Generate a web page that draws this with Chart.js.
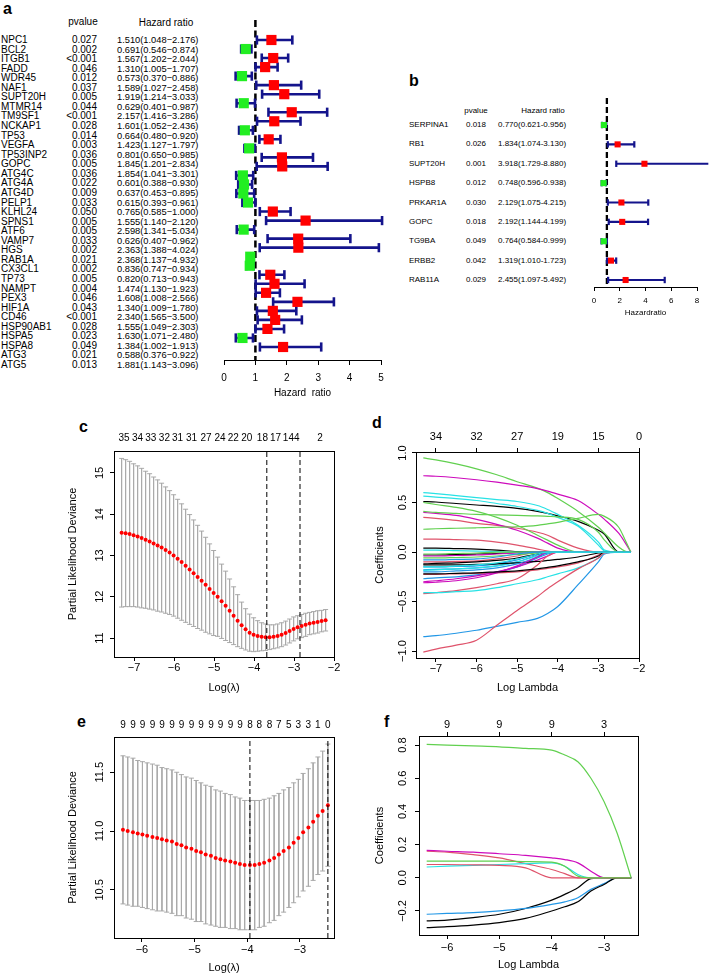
<!DOCTYPE html>
<html><head><meta charset="utf-8">
<script src="https://cdn.jsdelivr.net/npm/chart.js@4.4.1/dist/chart.umd.min.js"></script>
<style>
html,body{margin:0;padding:0;background:#fff;}
body{position:relative;width:709px;height:975px;overflow:hidden;font-family:'Liberation Sans',Arial,Helvetica,sans-serif;color:#000;}
.t{position:absolute;white-space:nowrap;line-height:12px;height:12px;}
.lab{position:absolute;font-weight:bold;font-size:16px;line-height:16px;}
canvas{position:absolute;}
</style></head><body>
<script>
// ================= DATA =================
// Panel a: univariate Cox
const genesA = ['NPC1','BCL2','ITGB1','FADD','WDR45','NAF1','SUPT20H','MTMR14','TM9SF1','NCKAP1','TP53','VEGFA','TP53INP2','GOPC','ATG4C','ATG4A','ATG4D','PELP1','KLHL24','SPNS1','ATF6','VAMP7','HGS','RAB1A','CX3CL1','TP73','NAMPT','PEX3','HIF1A','CD46','HSP90AB1','HSPA5','HSPA8','ATG3','ATG5'];
const pvalA = ['0.027','0.002','<0.001','0.046','0.012','0.037','0.005','0.044','<0.001','0.028','0.014','0.003','0.036','0.005','0.036','0.022','0.009','0.033','0.050','0.005','0.005','0.033','0.002','0.021','0.002','0.005','0.004','0.046','0.043','<0.001','0.028','0.023','0.049','0.021','0.013'];
const hrA   = [1.510,0.691,1.567,1.310,0.573,1.589,1.919,0.629,2.157,1.601,0.664,1.423,0.801,1.845,1.854,0.601,0.637,0.615,0.765,1.555,2.598,0.626,2.363,2.368,0.836,0.820,1.474,1.608,1.340,2.340,1.555,1.630,1.384,0.588,1.881];
const lowA  = [1.048,0.546,1.202,1.005,0.370,1.027,1.214,0.401,1.416,1.052,0.480,1.127,0.650,1.201,1.041,0.388,0.453,0.393,0.585,1.140,1.341,0.407,1.388,1.137,0.747,0.713,1.130,1.008,1.009,1.565,1.049,1.071,1.002,0.376,1.143];
const highA = [2.176,0.874,2.044,1.707,0.886,2.458,3.033,0.987,3.286,2.436,0.920,1.797,0.985,2.834,3.301,0.930,0.895,0.961,1.000,2.120,5.034,0.962,4.024,4.932,0.934,0.943,1.923,2.566,1.780,3.500,2.303,2.480,1.913,0.922,3.096];
const ticksA = [0,1,2,3,4,5];

// Panel b: multivariate Cox
const genesB = ['SERPINA1','RB1','SUPT20H','HSPB8','PRKAR1A','GOPC','TG9BA','ERBB2','RAB11A'];
const pvalB  = ['0.018','0.026','0.001','0.012','0.030','0.018','0.049','0.042','0.029'];
const hrB    = [0.770,1.834,3.918,0.748,2.129,2.192,0.764,1.319,2.455];
const lowB   = [0.621,1.074,1.729,0.596,1.075,1.144,0.584,1.010,1.097];
const highB  = [0.956,3.130,8.880,0.938,4.215,4.199,0.999,1.723,5.492];
const ticksB = [0,2,4,6,8];

// Panel c: cross-validation (35 genes)
const lambdaC = [-7.31,-7.21,-7.11,-7.01,-6.91,-6.81,-6.71,-6.61,-6.51,-6.41,-6.31,-6.21,-6.11,-6.01,-5.91,-5.81,-5.71,-5.61,-5.51,-5.41,-5.31,-5.21,-5.11,-5.01,-4.91,-4.81,-4.71,-4.61,-4.51,-4.41,-4.31,-4.21,-4.11,-4.01,-3.91,-3.81,-3.71,-3.61,-3.51,-3.41,-3.31,-3.21,-3.11,-3.01,-2.91,-2.81,-2.71,-2.61,-2.51,-2.41,-2.31,-2.21];
const devC = [13.55,13.54,13.52,13.49,13.46,13.42,13.38,13.34,13.29,13.24,13.19,13.13,13.07,13.00,12.92,12.84,12.75,12.66,12.57,12.48,12.39,12.29,12.19,12.09,12.00,11.89,11.78,11.66,11.54,11.42,11.31,11.21,11.13,11.08,11.05,11.03,11.02,11.02,11.03,11.05,11.08,11.12,11.17,11.22,11.26,11.29,11.32,11.35,11.37,11.39,11.41,11.43];
const seC  = [1.80,1.78,1.76,1.73,1.71,1.69,1.66,1.64,1.61,1.59,1.56,1.53,1.50,1.47,1.44,1.41,1.37,1.33,1.29,1.25,1.20,1.15,1.09,1.03,0.96,0.90,0.84,0.77,0.70,0.63,0.56,0.50,0.45,0.41,0.37,0.34,0.32,0.30,0.29,0.29,0.29,0.29,0.29,0.29,0.28,0.28,0.28,0.27,0.27,0.27,0.26,0.26];
const cutC = [-3.68,-2.85];
const nzPosC = [-7.25,-6.91,-6.58,-6.24,-5.91,-5.56,-5.2,-4.85,-4.52,-4.18,-3.79,-3.46,-3.14,-2.93,-2.35];
const nzLabC = ['35','34','33','32','31','31','27','24','22','20','18','17','14','4','2'];
const xTicksC = [-7,-6,-5,-4,-3,-2];
const yTicksC = [11,12,13,14,15];

// Panel d: coefficient paths (35 genes)
const lambdaD = [-7.31,-7,-6.5,-6,-5.5,-5,-4.5,-4.25,-4,-3.5,-3,-2.85,-2.5,-2.35,-2.2];
const coefD = [
 [0.51,0.505,0.49,0.475,0.46,0.44,0.41,0.39,0.365,0.31,0.22,0.18,0,0,0],
 [0.35,0.34,0.32,0.29,0.27,0.24,0.2,0.17,0.12,0.04,0,0,0,0,0],
 [0.95,0.93,0.89,0.84,0.78,0.71,0.645,0.6,0.54,0.41,0.25,0.19,0.05,0.01,0],
 [-0.15,-0.15,-0.145,-0.14,-0.12,-0.08,-0.02,0,0,0,0,0,0,0,0],
 [0.6,0.59,0.57,0.55,0.53,0.51,0.47,0.43,0.38,0.27,0.1,0.02,0,0,0],
 [0.77,0.765,0.75,0.73,0.705,0.675,0.64,0.615,0.585,0.52,0.38,0.33,0.19,0.1,0],
 [0.04,0.04,0.035,0.03,0.02,0.005,0,0,0,0,0,0,0,0,0],
 [0.13,0.13,0.125,0.12,0.1,0.07,0.03,0.01,0,0,0,0,0,0,0],
 [0.5,0.48,0.45,0.41,0.35,0.27,0.17,0.12,0.07,0,0,0,0,0,0],
 [-0.18,-0.175,-0.17,-0.16,-0.14,-0.1,-0.03,0,0,0,0,0,0,0,0],
 [0.565,0.555,0.54,0.52,0.49,0.46,0.42,0.39,0.35,0.26,0.07,0.01,0,0,0],
 [0.4,0.39,0.37,0.33,0.28,0.22,0.14,0.09,0.04,0,0,0,0,0,0],
 [-0.03,-0.03,-0.025,-0.02,-0.015,-0.005,0,0,0,0,0,0,0,0,0],
 [-0.1,-0.1,-0.095,-0.09,-0.07,-0.04,0,0,0,0,0,0,0,0,0],
 [0.41,0.4,0.39,0.38,0.375,0.37,0.365,0.36,0.355,0.33,0.2,0.12,0,0,0],
 [-0.27,-0.26,-0.25,-0.23,-0.2,-0.15,-0.06,-0.02,0,0,0,0,0,0,0],
 [0.02,0.02,0.015,0.01,0.005,0,0,0,0,0,0,0,0,0,0],
 [-0.04,-0.04,-0.035,-0.03,-0.02,-0.01,0,0,0,0,0,0,0,0,0],
 [-0.12,-0.115,-0.11,-0.1,-0.085,-0.06,-0.02,0,0,0,0,0,0,0,0],
 [-0.225,-0.225,-0.22,-0.215,-0.21,-0.2,-0.18,-0.165,-0.15,-0.11,-0.03,0,0,0,0],
 [0.23,0.235,0.24,0.245,0.25,0.255,0.27,0.285,0.3,0.34,0.38,0.36,0.25,0.13,0],
 [-0.855,-0.845,-0.82,-0.79,-0.75,-0.71,-0.67,-0.62,-0.55,-0.33,-0.1,-0.02,0,0,0],
 [-0.185,-0.18,-0.17,-0.16,-0.14,-0.1,-0.04,-0.01,0,0,0,0,0,0,0],
 [-0.3,-0.29,-0.27,-0.24,-0.2,-0.15,-0.08,-0.04,0,0,0,0,0,0,0],
 [-0.13,-0.13,-0.13,-0.125,-0.12,-0.11,-0.095,-0.085,-0.075,-0.05,-0.01,0,0,0,0],
 [-0.42,-0.41,-0.39,-0.36,-0.32,-0.27,-0.13,-0.04,0,0,0,0,0,0,0],
 [-0.06,-0.06,-0.055,-0.05,-0.04,-0.025,-0.01,0,0,0,0,0,0,0,0],
 [-0.2,-0.2,-0.19,-0.18,-0.16,-0.12,-0.05,-0.01,0,0,0,0,0,0,0],
 [-0.41,-0.41,-0.4,-0.39,-0.36,-0.32,-0.28,-0.25,-0.22,-0.16,-0.06,-0.01,0,0,0],
 [-0.31,-0.305,-0.29,-0.26,-0.21,-0.14,-0.05,0,0,0,0,0,0,0,0],
 [-0.22,-0.22,-0.215,-0.21,-0.2,-0.19,-0.17,-0.155,-0.14,-0.1,-0.04,0,0,0,0],
 [-1.01,-0.98,-0.94,-0.89,-0.74,-0.59,-0.45,-0.37,-0.3,-0.17,-0.06,-0.01,0,0,0],
 [-0.02,-0.02,-0.015,-0.01,0,0,0,0,0,0,0,0,0,0,0],
 [-0.08,-0.08,-0.075,-0.07,-0.05,-0.02,0,0,0,0,0,0,0,0,0],
 [-0.15,-0.15,-0.14,-0.13,-0.11,-0.07,-0.02,0,0,0,0,0,0,0,0]
];
const xTicksD = [-7,-6,-5,-4,-3,-2];
const nzLabD  = ['34','32','27','19','15','0'];
const yTicksD = [-1,-0.5,0,0.5,1];

// Panel e: cross-validation (9 genes)
const lambdaE = [-6.36,-6.27,-6.17,-6.08,-5.99,-5.90,-5.80,-5.71,-5.62,-5.53,-5.43,-5.34,-5.25,-5.16,-5.06,-4.97,-4.88,-4.79,-4.69,-4.60,-4.51,-4.42,-4.32,-4.23,-4.14,-4.05,-3.95,-3.86,-3.77,-3.68,-3.58,-3.49,-3.40,-3.31,-3.21,-3.12,-3.03,-2.94,-2.84,-2.75,-2.66,-2.57,-2.47];
const devE = [11.01,11.00,10.99,10.98,10.97,10.96,10.95,10.94,10.93,10.92,10.91,10.89,10.88,10.86,10.85,10.83,10.82,10.80,10.79,10.77,10.76,10.75,10.74,10.73,10.72,10.71,10.71,10.71,10.72,10.73,10.75,10.77,10.80,10.83,10.86,10.90,10.94,10.99,11.03,11.08,11.13,11.17,11.22];
const seE  = [0.63,0.63,0.63,0.62,0.62,0.62,0.62,0.62,0.61,0.61,0.61,0.61,0.60,0.60,0.60,0.60,0.59,0.59,0.59,0.58,0.58,0.57,0.57,0.56,0.56,0.55,0.55,0.55,0.54,0.54,0.53,0.53,0.52,0.52,0.51,0.51,0.50,0.50,0.50,0.50,0.50,0.51,0.52];
const cutE = [-3.95,-2.47];
const nzLabE = ['9','9','9','9','9','9','9','9','9','9','9','9','9','8','8','8','7','5','3','3','1','0'];
const xTicksE = [-6,-5,-4,-3];
const yTicksE = [10.5,11,11.5];

// Panel f: coefficient paths (9 genes)
const lambdaF = [-6.39,-6,-5.5,-5,-4.5,-4,-3.75,-3.5,-3.25,-3,-2.75,-2.48];
const coefF = [
 [-0.26,-0.255,-0.24,-0.22,-0.185,-0.135,-0.1,-0.06,-0.005,0,0,0],
 [0.16,0.155,0.14,0.12,0.085,0.05,0.025,0,0,0,0,0],
 [0.805,0.8,0.795,0.79,0.78,0.77,0.74,0.7,0.6,0.46,0.27,0],
 [-0.22,-0.215,-0.21,-0.2,-0.185,-0.16,-0.145,-0.12,-0.07,-0.035,0,0],
 [0.065,0.07,0.075,0.08,0.085,0.09,0.07,0.02,0,0,0,0],
 [0.165,0.16,0.155,0.145,0.135,0.12,0.11,0.09,0.04,0,0,0],
 [-0.3,-0.295,-0.285,-0.27,-0.245,-0.2,-0.175,-0.145,-0.08,-0.04,0,0],
 [0.08,0.08,0.078,0.075,0.06,0,0,0,0,0,0,0],
 [0.1,0.1,0.1,0.1,0.098,0.095,0.07,0.01,0,0,0,0]
];
const xTicksF = [-6,-5,-4,-3];
const nzLabF  = ['9','9','9','3'];
const yTicksF = [-0.2,0,0.2,0.4,0.6,0.8];

// ================= RENDERING =================
const FONT = "'Liberation Sans', Arial, Helvetica, sans-serif";
const NAVY = '#14148c', RED = '#ff0000', GREEN = '#22ee22', GRAY = '#aaaaaa';
const PAL = ['#000000','#DF536B','#61D04F','#2297E6','#28E2E5','#CD0BBC'];
Chart.defaults.font.family = FONT;
Chart.defaults.color = '#000';
Chart.defaults.animation = false;
Chart.defaults.events = [];

function fmt(v, d){ return Number(v).toFixed(d).replace('-', '\u2212'); }
function txt(x, y, s, size, align){
  const el = document.createElement('div');
  el.className = 't'; el.textContent = s; el.style.fontSize = size + 'px';
  el.style.top = (y - 6) + 'px';
  if (align === 'right') { el.style.left = (x - 150) + 'px'; el.style.width = '150px'; el.style.textAlign = 'right'; }
  else if (align === 'center') { el.style.left = (x - 100) + 'px'; el.style.width = '200px'; el.style.textAlign = 'center'; }
  else el.style.left = x + 'px';
  document.body.appendChild(el);
}
function letter(x, y, s, off){
  const el = document.createElement('div');
  el.className = 'lab'; el.textContent = s;
  el.style.left = (x - 5) + 'px'; el.style.top = (y - off) + 'px';
  document.body.appendChild(el);
}
function mkCanvas(L, T, W, H){
  const c = document.createElement('canvas');
  c.width = W; c.height = H;
  c.style.left = L + 'px'; c.style.top = T + 'px'; c.style.width = W + 'px'; c.style.height = H + 'px';
  document.body.appendChild(c);
  return c;
}
const frame = { id: 'frame', afterDatasetsDraw(chart, args, o){
  if (!o || !o.show) return;
  const a = chart.chartArea, c = chart.ctx;
  c.save(); c.strokeStyle = '#000'; c.lineWidth = 1;
  c.strokeRect(Math.round(a.left) + 0.5, Math.round(a.top) + 0.5, Math.round(a.right - a.left), Math.round(a.bottom - a.top));
  c.restore();
}};

// ---- letters ----
letter(8, 10, 'a', 9.3); letter(414, 81, 'b', 7.7); letter(84, 428, 'c', 9.3);
letter(377, 423, 'd', 7.7); letter(82, 723, 'e', 9.3); letter(389, 722, 'f', 7.7);

// ---- tables ----
txt(83, 22, 'pvalue', 10, 'center');
txt(166, 23, 'Hazard ratio', 10, 'center');
genesA.forEach((g, i) => {
  const y = 40 + i * 9.56;
  txt(1, y, g, 10);
  txt(97, y, pvalA[i], 10, 'right');
  txt(117, y, hrA[i].toFixed(3) + '(' + lowA[i].toFixed(3) + '\u2212' + highA[i].toFixed(3) + ')', 9.3);
});
txt(476, 111, 'pvalue', 8, 'center');
txt(543, 111, 'Hazard ratio', 8, 'center');
genesB.forEach((g, i) => {
  const y = 125 + i * 19.375;
  txt(409, y, g, 8);
  txt(466, y, pvalB[i], 8);
  txt(498, y, hrB[i].toFixed(3) + '(' + lowB[i].toFixed(3) + '-' + highB[i].toFixed(3) + ')', 8);
});

// ---- forest plots ----
function forest(g){
  const c = mkCanvas(g.L, g.T, g.W, g.H);
  const bars = [], caps = [], up = [], down = [];
  g.hr.forEach((h, i) => {
    bars.push({x: g.lo[i], y: i}, {x: g.hi[i], y: i}, {x: null, y: null});
    caps.push({x: g.lo[i], y: i}, {x: g.hi[i], y: i});
    (h > 1 ? up : down).push({x: h, y: i});
  });
  new Chart(c, {
    type: 'scatter',
    data: { datasets: [
      {data: up, showLine: false, pointStyle: 'rect', pointRadius: g.boxR, pointBackgroundColor: RED, pointBorderWidth: 0, clip: false, order: 0},
      {data: down, showLine: false, pointStyle: 'rect', pointRadius: g.boxR, pointBackgroundColor: GREEN, pointBorderWidth: 0, clip: false, order: 1},
      {data: caps, showLine: false, pointStyle: 'line', pointRotation: 90, pointRadius: g.capR, pointBorderColor: NAVY, pointBackgroundColor: NAVY, pointBorderWidth: g.barW, clip: false, order: 2},
      {data: bars, showLine: true, spanGaps: false, borderColor: NAVY, borderWidth: g.barW, pointRadius: 0, clip: false, order: 3},
      {data: [{x: 1, y: g.ymin}, {x: 1, y: g.ymax}], showLine: true, borderColor: '#000', borderWidth: g.dashW, borderDash: g.dash, pointRadius: 0, clip: false, order: 4}
    ]},
    options: {
      responsive: false, animation: false,
      layout: { padding: { left: g.aL - g.L, top: g.aT - g.T, right: g.L + g.W - g.aR, bottom: g.T + g.H - g.aB - g.hx } },
      plugins: { legend: {display: false}, tooltip: {enabled: false} },
      scales: {
        x: { type: 'linear', min: 0, max: g.xmax,
             afterBuildTicks: s => { s.ticks = g.ticks.map(v => ({value: v})); },
             ticks: { font: {size: g.font}, padding: g.tickPad, maxRotation: 0, autoSkip: false, color: '#000' },
             grid: { display: true, drawOnChartArea: false, drawTicks: true, tickLength: g.tickLen, color: '#000', tickColor: '#000' },
             border: { display: true, color: '#000', width: 1 },
             title: { display: true, text: g.title, font: {size: g.font}, padding: 0, color: '#000' },
             afterFit: s => { s.height = g.hx; } },
        y: { type: 'linear', display: false, reverse: true, min: g.ymin, max: g.ymax }
      }
    }
  });
}
forest({L: 180, T: 0, W: 220, H: 410, aL: 224, aT: 20, aR: 381, aB: 360, hx: 39,
  ymin: -2.215, ymax: 35.44, xmax: 5, ticks: ticksA, font: 10, tickLen: 5, tickPad: 7,
  hr: hrA, lo: lowA, hi: highA, barW: 2.6, capR: 4.6, boxR: 7.2, dashW: 2.5, dash: [7, 3.5], title: 'Hazard  ratio'});
forest({L: 560, T: 80, W: 149, H: 250, aL: 594, aT: 98, aR: 697, aB: 287, hx: 31,
  ymin: -1.394, ymax: 8.361, xmax: 8, ticks: ticksB, font: 8, tickLen: 4, tickPad: 5,
  hr: hrB, lo: lowB, hi: highB, barW: 2.2, capR: 3.2, boxR: 4.3, dashW: 2.3, dash: [6, 3], title: 'Hazardratio'});

// ---- boxed LASSO panels ----
function boxed(g){
  const c = mkCanvas(g.L, g.T, g.W, g.H);
  new Chart(c, {
    type: 'scatter',
    data: { datasets: g.datasets },
    plugins: [frame],
    options: {
      responsive: false, animation: false,
      layout: { padding: { left: g.aL - g.L - g.wy, top: g.aT - g.T - g.ht, right: g.L + g.W - g.aR, bottom: g.T + g.H - g.aB - g.hx } },
      plugins: { legend: {display: false}, tooltip: {enabled: false}, frame: {show: true} },
      scales: {
        x: { type: 'linear', position: 'bottom', min: g.xmin, max: g.xmax,
             afterBuildTicks: s => { s.ticks = g.xTicks.map(v => ({value: v})); },
             ticks: { font: {size: 11}, padding: g.xPad, maxRotation: 0, autoSkip: false, color: '#000', callback: v => fmt(v, 0) },
             grid: { display: true, drawOnChartArea: false, drawTicks: true, tickLength: 4, color: '#000', tickColor: '#000' },
             border: { display: false },
             title: { display: true, text: g.xTitle, font: {size: 11}, padding: 0, color: '#000' },
             afterFit: s => { s.height = g.hx; } },
        x2: { type: 'linear', position: 'top', min: g.xmin, max: g.xmax,
             afterBuildTicks: s => { s.ticks = g.topPos.map(v => ({value: v})); },
             ticks: { font: {size: g.topFont}, padding: g.topPad, maxRotation: 0, autoSkip: false, color: '#000', callback: (v, i) => g.topLab[i] },
             grid: { display: g.topTicks, drawOnChartArea: false, drawTicks: g.topTicks, tickLength: 4, color: '#000', tickColor: '#000' },
             border: { display: false },
             afterFit: s => { s.height = g.ht; } },
        y: { type: 'linear', position: 'left', min: g.ymin, max: g.ymax,
             afterBuildTicks: s => { s.ticks = g.yTicks.map(v => ({value: v})); },
             ticks: { font: {size: 11}, padding: g.yPad, minRotation: 90, maxRotation: 90, crossAlign: 'center', autoSkip: false, color: '#000', callback: v => fmt(v, g.yDec) },
             grid: { display: true, drawOnChartArea: false, drawTicks: true, tickLength: 4, color: '#000', tickColor: '#000' },
             border: { display: false },
             title: { display: true, text: g.yTitle, font: {size: 11}, padding: 0, color: '#000' },
             afterFit: s => { s.width = g.wy; } }
      }
    }
  });
}
function cvSets(xs, m, se, cuts, ymin, ymax){
  const bars = [], caps = [], dots = [];
  xs.forEach((x, i) => {
    bars.push({x: x, y: m[i] + se[i]}, {x: x, y: m[i] - se[i]}, {x: null, y: null});
    caps.push({x: x, y: m[i] + se[i]}, {x: x, y: m[i] - se[i]});
    dots.push({x: x, y: m[i]});
  });
  const sets = [
    {data: bars, showLine: true, spanGaps: false, borderColor: GRAY, borderWidth: 1, pointRadius: 0, order: 4},
    {data: caps, showLine: false, pointStyle: 'line', pointRadius: 2.5, pointBorderColor: GRAY, pointBackgroundColor: GRAY, pointBorderWidth: 1, order: 3},
    {data: dots, showLine: false, pointStyle: 'circle', pointRadius: 2, pointBackgroundColor: RED, pointBorderWidth: 0, order: 1}
  ];
  cuts.forEach(v => sets.push({data: [{x: v, y: ymin}, {x: v, y: ymax}], showLine: true, borderColor: '#000', borderWidth: 1, borderDash: [5, 3], pointRadius: 0, order: 0}));
  return sets;
}
function pathSets(xs, coefs){
  return coefs.map((cf, i) => ({
    data: xs.map((x, j) => ({x: x, y: cf[j]})), showLine: true, borderColor: PAL[i % 6], borderWidth: 1.2,
    pointRadius: 0, cubicInterpolationMode: 'monotone', order: coefs.length - i
  }));
}

// c
boxed({L: 60, T: 425, W: 290, H: 275, aL: 114, aT: 451, aR: 334, aB: 657, wy: 48, hx: 38, ht: 21,
  xmin: -7.5, xmax: -2.0, ymin: 10.54, ymax: 15.53, xTicks: xTicksC, yTicks: yTicksC, yDec: 0,
  xPad: 0.4, yPad: 3.9, topPos: nzPosC, topLab: nzLabC, topTicks: false, topPad: 7, topFont: 10,
  xTitle: 'Log(\u03bb)', yTitle: 'Partial Likelihood Deviance',
  datasets: cvSets(lambdaC, devC, seC, cutC, 10.54, 15.53)});
// d
boxed({L: 360, T: 425, W: 349, H: 275, aL: 416, aT: 452, aR: 639, aB: 658, wy: 43, hx: 37, ht: 24,
  xmin: -7.49, xmax: -2.0, ymin: -1.07, ymax: 1.01, xTicks: xTicksD, yTicks: yTicksD, yDec: 1,
  xPad: 0, yPad: -1.9, topPos: xTicksD, topLab: nzLabD, topTicks: true, topPad: 4.4, topFont: 11,
  xTitle: 'Log Lambda', yTitle: 'Coefficients',
  datasets: pathSets(lambdaD, coefD)});
// e
boxed({L: 60, T: 700, W: 290, H: 275, aL: 114, aT: 737, aR: 334, aB: 938, wy: 48, hx: 37, ht: 19,
  xmin: -6.53, xmax: -2.354, ymin: 10.09, ymax: 11.8, xTicks: xTicksE, yTicks: yTicksE, yDec: 1,
  xPad: 1.4, yPad: -0.7, topPos: lambdaE.filter((v, i) => i % 2 === 0), topLab: nzLabE, topTicks: false, topPad: 6, topFont: 10,
  xTitle: 'Log(\u03bb)', yTitle: 'Partial Likelihood Deviance',
  datasets: cvSets(lambdaE, devE, seE, cutE, 10.09, 11.8)});
// f
boxed({L: 360, T: 700, W: 349, H: 275, aL: 419, aT: 736, aR: 638, aB: 935, wy: 46, hx: 37, ht: 23,
  xmin: -6.537, xmax: -2.35, ymin: -0.345, ymax: 0.855, xTicks: xTicksF, yTicks: yTicksF, yDec: 1,
  xPad: 2.4, yPad: 1.1, topPos: xTicksF, topLab: nzLabF, topTicks: true, topPad: 0.4, topFont: 11,
  xTitle: 'Log Lambda', yTitle: 'Coefficients',
  datasets: pathSets(lambdaF, coefF)});
</script>
</body></html>
